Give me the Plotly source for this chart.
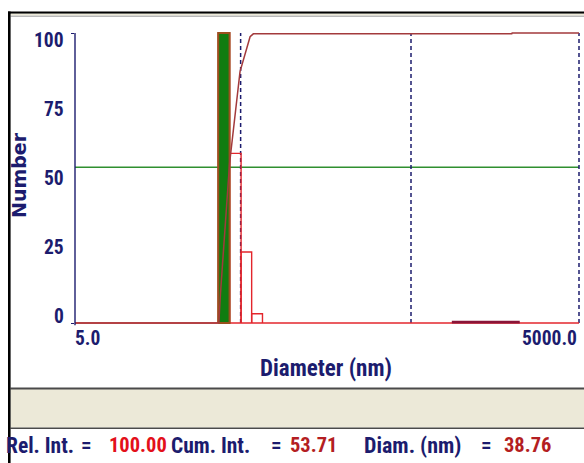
import math
import plotly.graph_objects as go

# ---------------- data ----------------
x_range = [5.0, 5000.0]                     # nm, log axis
y_ticks = [0, 25, 50, 75, 100]
y_tick_labels = ["0", "25", "50", "75", "100"]
x_tick_labels = ["5.0", "5000.0"]

bin_edges = [35.6, 41.6, 48.7, 56.3, 65.3]  # nm
bin_values = [100.0, 58.5, 24.5, 3.2]       # Number (relative)
selected_bin = 0

tail_diam = [875, 1050, 1260, 1510, 1810, 2220]
tail_values = [0.3, 0.3, 0.3, 0.3, 0.3, 0.3]

cum_diam = [5.0, 35.9, 36.7, 41.6, 48.0, 55.1, 57.6, 1990, 2000, 5000]
cum_values = [0, 0, 10, 55.1, 86.7, 98.7, 99.7, 99.7, 100, 100]

marker_diams = [48.4, 500, 5000]
cum_int = 53.71
rel_int = 100.00
sel_diam = 38.76

# ---------------- styling ----------------
W, H = 584, 463
ML, MR, MT, MB = 75, 3, 30, 137
PW, PH = W - ML - MR, H - MT - MB
PX_PER_UNIT = 2.9
pad_u = 3 / PX_PER_UNIT
PX_PER_DEC = 168.0
x_lo = math.log10(x_range[0])
x_hi = math.log10(x_range[1]) + 2 / PX_PER_DEC

NAVY = "#1c1c6e"
RED = "#e3262c"
MAROON = "#a33a3c"
GREEN = "#2f8f2f"
COND = "Roboto Condensed, Liberation Sans Narrow, Arial Narrow, Liberation Sans, sans-serif"


def pxx(xp):
    return (xp - ML) / PW


def pxy(yp):
    return (H - MB - yp) / PH


fig = go.Figure()

# cumulative-intensity level line
fig.add_trace(go.Scatter(x=x_range, y=[cum_int, cum_int], mode="lines",
                         line=dict(color=GREEN, width=1.5), hoverinfo="skip"))

# dashed marker lines
for d in marker_diams:
    fig.add_trace(go.Scatter(x=[d, d], y=[0, 100], mode="lines",
                             line=dict(color=NAVY, width=1.5, dash="4px,3px"),
                             hoverinfo="skip", cliponaxis=False))

# histogram outlines
hx, hy = [], []
for i, v in enumerate(bin_values):
    l, r = bin_edges[i], bin_edges[i + 1]
    hx += [l, l, r, r, None]
    hy += [0, v, v, 0, None]
fig.add_trace(go.Scatter(x=hx, y=hy, mode="lines",
                         line=dict(color=RED, width=1.4), hoverinfo="skip"))
# baseline
fig.add_trace(go.Scatter(x=x_range, y=[0, 0], mode="lines",
                         line=dict(color=RED, width=1.4), hoverinfo="skip",
                         cliponaxis=False))

# tiny tail bins
fig.add_trace(go.Scatter(x=tail_diam, y=tail_values, mode="lines",
                         line=dict(color="#8a1538", width=2.6), hoverinfo="skip"))

# selected bin (green bar)
l, r = bin_edges[selected_bin], bin_edges[selected_bin + 1]
v = bin_values[selected_bin]
fig.add_trace(go.Scatter(x=[l, l, r, r, l], y=[0, v, v, 0, 0], mode="lines",
                         fill="toself", fillcolor="#107c10",
                         line=dict(color="#9a4f1e", width=2), hoverinfo="skip"))

# cumulative curve
fig.add_trace(go.Scatter(x=cum_diam, y=cum_values, mode="lines",
                         line=dict(color=MAROON, width=1.5), hoverinfo="skip"))

# ---------------- layout ----------------
fig.update_layout(
    width=W, height=H,
    margin=dict(l=ML, r=MR, t=MT, b=MB, pad=0),
    paper_bgcolor="white", plot_bgcolor="white",
    showlegend=False,
    xaxis=dict(type="log", range=[x_lo, x_hi], showgrid=False, zeroline=False,
               showline=False, showticklabels=False, ticks=""),
    yaxis=dict(range=[-pad_u, 100 + pad_u], showgrid=False, zeroline=False,
               showline=False, showticklabels=False, ticks="outside",
               tickvals=[0, 100], ticklen=3, tickwidth=1.4, tickcolor=NAVY),
)

shapes = []
# y-axis line
shapes.append(dict(type="line", xref="paper", yref="y", x0=0, x1=0, y0=-0.8, y1=100,
                   line=dict(color=NAVY, width=1.4)))
# window frame: top border
shapes.append(dict(type="rect", xref="paper", yref="paper", x0=pxx(8), x1=pxx(W + 5),
                   y0=pxy(13.8), y1=pxy(11.5), fillcolor="black", line=dict(width=0)))
shapes.append(dict(type="rect", xref="paper", yref="paper", x0=pxx(10.5), x1=pxx(W + 5),
                   y0=pxy(15.6), y1=pxy(13.8), fillcolor="#ece9d8", line=dict(width=0)))
shapes.append(dict(type="line", xref="paper", yref="paper", x0=pxx(10.5), x1=pxx(W + 5),
                   y0=pxy(16.2), y1=pxy(16.2), line=dict(color="#9a9a9a", width=1)))
# bottom grey panel
shapes.append(dict(type="rect", xref="paper", yref="paper", x0=pxx(10.5), x1=pxx(W + 5),
                   y0=pxy(427.5), y1=pxy(389), fillcolor="#ece9d8", line=dict(width=0)))
shapes.append(dict(type="line", xref="paper", yref="paper", x0=pxx(10.5), x1=pxx(W + 5),
                   y0=pxy(388.6), y1=pxy(388.6), line=dict(color="#4a4a4a", width=2)))
shapes.append(dict(type="line", xref="paper", yref="paper", x0=pxx(10.5), x1=pxx(W + 5),
                   y0=pxy(428.2), y1=pxy(428.2), line=dict(color="#4a4a4a", width=1.6)))
# left border
shapes.append(dict(type="rect", xref="paper", yref="paper", x0=pxx(8), x1=pxx(10.6),
                   y0=pxy(H + 5), y1=pxy(11.5), fillcolor="black", line=dict(width=0)))
fig.update_layout(shapes=shapes)

ann = []
# y tick labels
for val, lab in zip(y_ticks, y_tick_labels):
    ann.append(dict(xref="paper", yref="y", x=pxx(66), y=val, text=lab,
                    xanchor="right", yanchor="middle", showarrow=False,
                    yshift=-7 + 0.133 * (100 - val),
                    font=dict(family=COND, size=19.5, color=NAVY, weight="bold")))
# x tick labels
ann.append(dict(xref="paper", yref="paper", x=pxx(73), y=pxy(338), text=x_tick_labels[0],
                xanchor="left", yanchor="middle", showarrow=False,
                font=dict(family=COND, size=19.5, color=NAVY, weight="bold")))
ann.append(dict(xref="paper", yref="paper", x=pxx(579), y=pxy(338), text=x_tick_labels[1],
                xanchor="right", yanchor="middle", showarrow=False,
                font=dict(family=COND, size=19.5, color=NAVY, weight="bold")))
# axis titles
ann.append(dict(xref="paper", yref="paper", x=pxx(326), y=pxy(368), text="Diameter (nm)",
                xanchor="center", yanchor="middle", showarrow=False,
                font=dict(family=COND, size=23, color=NAVY, weight="bold")))
ann.append(dict(xref="paper", yref="paper", x=pxx(19), y=pxy(175), text="Number",
                xanchor="center", yanchor="middle", showarrow=False, textangle=-90,
                font=dict(family="DejaVu Sans, sans-serif", size=19, color=NAVY, weight="bold")))
# status line
status = [
    ("Rel. Int.", 4, NAVY, 21.5),
    ("=", 79, NAVY, 21),
    (f"{rel_int:.2f}", 107, "#e3101a", 20.5),
    ("Cum. Int.", 169, NAVY, 21.5),
    ("=", 269, NAVY, 21),
    (f"{cum_int:.2f}", 288, "#b41e22", 20.5),
    ("Diam. (nm)", 362, NAVY, 22),
    ("=", 479, NAVY, 21),
    (f"{sel_diam:.2f}", 502, "#b41e22", 20.5),
]
for txt, xl, col, fs in status:
    ann.append(dict(xref="paper", yref="paper", x=pxx(xl), y=pxy(445), text=txt,
                    xanchor="left", yanchor="middle", showarrow=False,
                    font=dict(family=COND, size=fs, color=col, weight="bold")))
fig.update_layout(annotations=ann)

fig.write_html("out.html")
